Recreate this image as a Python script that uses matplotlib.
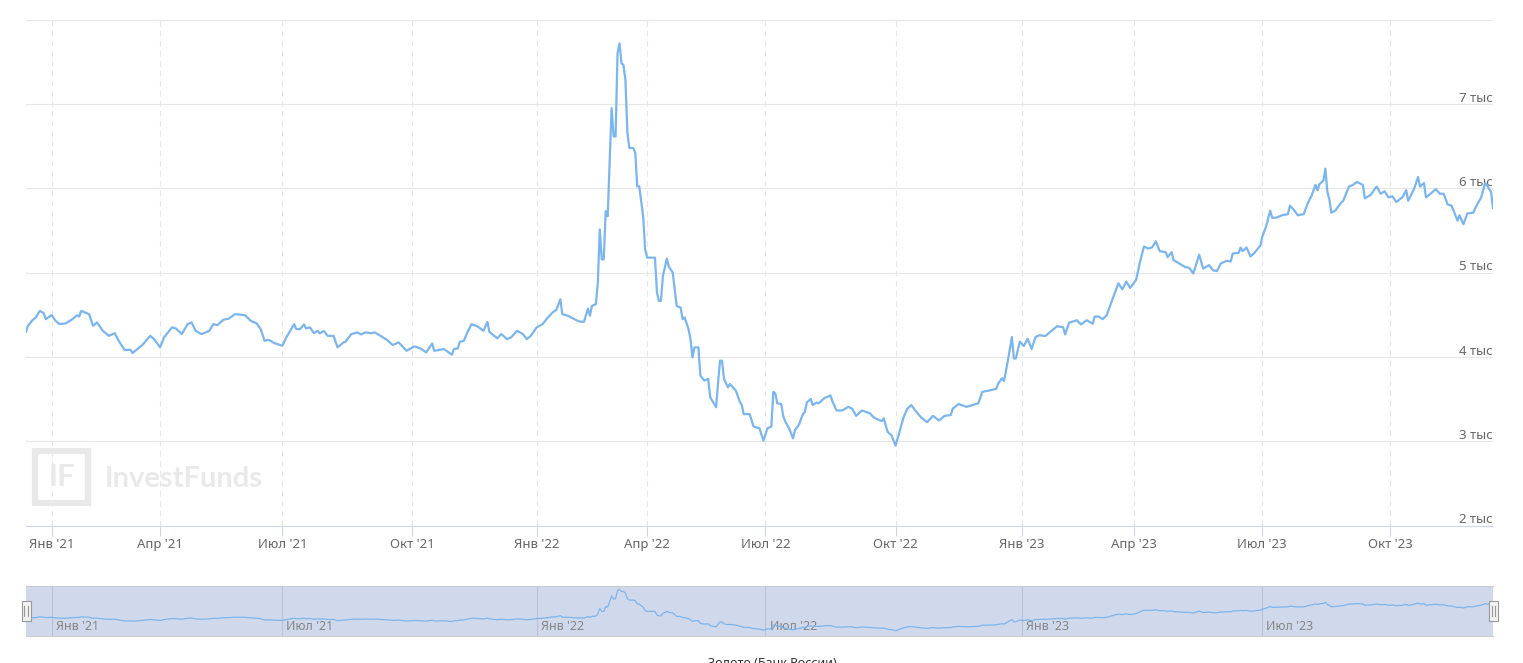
import numpy as np
import pandas as pd
import matplotlib
matplotlib.use("Agg")
import matplotlib.pyplot as plt
from matplotlib.patches import Rectangle
from matplotlib.lines import Line2D

plt.rcParams["font.family"] = ["Noto Sans", "DejaVu Sans"]

# Gold price, Bank of Russia (rub per gram)
dates_2020_21 = [
    "2020-12-15", "2020-12-16", "2020-12-18", "2020-12-22", "2020-12-24", "2020-12-28", "2020-12-29",
    "2021-01-11", "2021-01-13", "2021-01-15", "2021-01-20", "2021-01-25", "2021-01-28", "2021-01-29",
    "2021-02-01", "2021-02-05", "2021-02-09", "2021-02-11", "2021-02-16", "2021-02-19", "2021-02-26",
    "2021-03-02", "2021-03-05", "2021-03-11", "2021-03-12", "2021-03-19", "2021-03-25", "2021-03-29",
    "2021-04-01", "2021-04-05", "2021-04-09", "2021-04-13", "2021-04-16", "2021-04-21", "2021-04-23",
    "2021-04-27", "2021-04-30", "2021-05-07", "2021-05-12", "2021-05-14", "2021-05-19", "2021-05-24",
    "2021-05-27", "2021-06-03", "2021-06-08", "2021-06-11", "2021-06-16", "2021-06-18", "2021-06-22",
    "2021-06-25", "2021-07-01", "2021-07-05", "2021-07-09", "2021-07-12", "2021-07-14", "2021-07-16",
    "2021-07-19", "2021-07-21", "2021-07-23", "2021-07-27", "2021-07-28", "2021-07-30", "2021-08-03",
    "2021-08-06", "2021-08-10", "2021-08-13", "2021-08-16", "2021-08-19", "2021-08-24", "2021-08-26",
    "2021-08-30", "2021-09-02", "2021-09-06", "2021-09-10", "2021-09-14", "2021-09-17", "2021-09-22",
    "2021-09-28", "2021-10-04", "2021-10-07", "2021-10-12", "2021-10-15", "2021-10-18", "2021-10-25",
    "2021-10-29", "2021-11-01", "2021-11-03", "2021-11-08", "2021-11-10", "2021-11-12", "2021-11-16",
    "2021-11-19", "2021-11-24", "2021-11-26", "2021-11-29", "2021-12-03", "2021-12-07", "2021-12-10",
    "2021-12-14", "2021-12-17", "2021-12-22", "2021-12-24", "2021-12-28",
]
gold_2020_21 = [
    4297, 4368, 4427, 4467, 4545, 4518, 4447,
    4494, 4427, 4388, 4396, 4438, 4494, 4478,
    4545, 4506, 4368, 4408, 4308, 4249, 4281,
    4190, 4080, 4084, 4045, 4140, 4249, 4210,
    4112, 4230, 4349, 4337, 4270, 4388, 4408,
    4308, 4270, 4308, 4388, 4376, 4438, 4455,
    4506, 4494, 4427, 4396, 4329, 4190, 4202,
    4163, 4131, 4230, 4388, 4329, 4329, 4384,
    4337, 4349, 4281, 4308, 4278, 4308, 4249,
    4249, 4112, 4171, 4178, 4270, 4289, 4266,
    4289, 4281, 4289, 4230, 4202, 4140, 4171,
    4072, 4124, 4100, 4053, 4159, 4072, 4092,
    4025, 4092, 4100, 4178, 4190, 4297, 4388,
    4361, 4308, 4416, 4297, 4219, 4270, 4210,
    4230, 4308, 4270, 4210, 4249,
]

dates_2022 = [
    "2022-01-10", "2022-01-13", "2022-01-17", "2022-01-20", "2022-01-24", "2022-01-26", "2022-01-27",
    "2022-02-01", "2022-02-04", "2022-02-09", "2022-02-11", "2022-02-15", "2022-02-16", "2022-02-17",
    "2022-02-21", "2022-02-22", "2022-02-24", "2022-02-25", "2022-02-28", "2022-03-01", "2022-03-02",
    "2022-03-03", "2022-03-04", "2022-03-09", "2022-03-10", "2022-03-11", "2022-03-14", "2022-03-15",
    "2022-03-16", "2022-03-17", "2022-03-18", "2022-03-21", "2022-03-23", "2022-03-24", "2022-03-25",
    "2022-03-28", "2022-03-30", "2022-03-31", "2022-04-01", "2022-04-07", "2022-04-08", "2022-04-11",
    "2022-04-12", "2022-04-13", "2022-04-14", "2022-04-15", "2022-04-18", "2022-04-20", "2022-04-22",
    "2022-04-26", "2022-04-27", "2022-04-28", "2022-05-04", "2022-05-05", "2022-05-06", "2022-05-11",
    "2022-05-13", "2022-05-16", "2022-05-18", "2022-05-20", "2022-05-23", "2022-05-25", "2022-05-26",
    "2022-05-27", "2022-05-30", "2022-05-31", "2022-06-01", "2022-06-03", "2022-06-06", "2022-06-09",
    "2022-06-14", "2022-06-15", "2022-06-16", "2022-06-21", "2022-06-23", "2022-06-28", "2022-06-30",
    "2022-07-04", "2022-07-06", "2022-07-07", "2022-07-08", "2022-07-11", "2022-07-13", "2022-07-14",
    "2022-07-15", "2022-07-19", "2022-07-21", "2022-07-22", "2022-07-26", "2022-07-28", "2022-07-29",
    "2022-08-01", "2022-08-03", "2022-08-04", "2022-08-08", "2022-08-09", "2022-08-12", "2022-08-17",
    "2022-08-18", "2022-08-22", "2022-08-25", "2022-08-30", "2022-09-01", "2022-09-05", "2022-09-08",
    "2022-09-14", "2022-09-16", "2022-09-22", "2022-09-23", "2022-09-27", "2022-09-29", "2022-10-03",
    "2022-10-05", "2022-10-07", "2022-10-11", "2022-10-13", "2022-10-17", "2022-10-20", "2022-10-25",
    "2022-10-28", "2022-11-02", "2022-11-08", "2022-11-11", "2022-11-14", "2022-11-17", "2022-11-23",
    "2022-11-28", "2022-12-01", "2022-12-05", "2022-12-08", "2022-12-14", "2022-12-15", "2022-12-19",
    "2022-12-20", "2022-12-22", "2022-12-26", "2022-12-27", "2022-12-28", "2022-12-30",
]
gold_2022 = [
    4349, 4388, 4447, 4526, 4557, 4683, 4506,
    4486, 4447, 4416, 4416, 4573, 4486, 4604,
    4624, 4880, 5511, 5156, 5156, 5727, 5668,
    6299, 6949, 6614, 6614, 7599, 7717, 7481,
    7461, 7284, 6654, 6476, 6476, 6417, 6022,
    6022, 5668, 5274, 5176, 5176, 4762, 4663,
    4663, 4959, 5058, 5165, 5070, 4999, 4604,
    4585, 4447, 4467, 4329, 4210, 3994, 4112,
    4112, 3777, 3718, 3738, 3521, 3442, 3403,
    3699, 3954, 3954, 3738, 3639, 3678, 3599,
    3470, 3428, 3321, 3321, 3174, 3152, 3004,
    3152, 3174, 3585, 3568, 3449, 3441, 3301,
    3237, 3152, 3033, 3131, 3195, 3321, 3344,
    3458, 3501, 3428, 3458, 3449, 3512, 3542,
    3471, 3364, 3364, 3407, 3385, 3301, 3364,
    3330, 3280, 3237, 3271, 3109, 3067, 2948,
    3109, 3280, 3385, 3428, 3364, 3280, 3225,
    3301, 3245, 3301, 3309, 3385, 3441, 3407,
    3428, 3449, 3585, 3598, 3620, 3680, 3747,
    3712, 3958, 4235, 3980, 3980, 4180,
]

dates_2023 = [
    "2023-01-10", "2023-01-12", "2023-01-16", "2023-01-18", "2023-01-20", "2023-01-25", "2023-01-30",
    "2023-02-02", "2023-02-07", "2023-02-08", "2023-02-10", "2023-02-16", "2023-02-20", "2023-02-27",
    "2023-03-02", "2023-03-03", "2023-03-07", "2023-03-10", "2023-03-14", "2023-03-16", "2023-03-20",
    "2023-03-22", "2023-03-24", "2023-03-28", "2023-03-30", "2023-04-04", "2023-04-06", "2023-04-10",
    "2023-04-12", "2023-04-14", "2023-04-18", "2023-04-20", "2023-04-25", "2023-04-26", "2023-04-28",
    "2023-05-01", "2023-05-04", "2023-05-09", "2023-05-11", "2023-05-15", "2023-05-16", "2023-05-18",
    "2023-05-22", "2023-05-25", "2023-05-29", "2023-05-31", "2023-06-02", "2023-06-07", "2023-06-09",
    "2023-06-12", "2023-06-15", "2023-06-16", "2023-06-19", "2023-06-21", "2023-06-23", "2023-06-27",
    "2023-06-30", "2023-07-03", "2023-07-05", "2023-07-07", "2023-07-10", "2023-07-12", "2023-07-17",
    "2023-07-20", "2023-07-21", "2023-07-25", "2023-07-27", "2023-08-01", "2023-08-03", "2023-08-07",
    "2023-08-09", "2023-08-10", "2023-08-11", "2023-08-15", "2023-08-16", "2023-08-17", "2023-08-18",
    "2023-08-21", "2023-08-23", "2023-08-28", "2023-08-29", "2023-09-01", "2023-09-05", "2023-09-07",
    "2023-09-12", "2023-09-13", "2023-09-18", "2023-09-20", "2023-09-21", "2023-09-25", "2023-09-27",
    "2023-09-29", "2023-10-03", "2023-10-05", "2023-10-10", "2023-10-12", "2023-10-13", "2023-10-18",
    "2023-10-20", "2023-10-23", "2023-10-25", "2023-10-26", "2023-10-31", "2023-11-02", "2023-11-07",
    "2023-11-09", "2023-11-13", "2023-11-15", "2023-11-20", "2023-11-21", "2023-11-23", "2023-11-27",
    "2023-11-30", "2023-12-01", "2023-12-06", "2023-12-08", "2023-12-11", "2023-12-13", "2023-12-14",
]
gold_2023 = [
    4128, 4214, 4094, 4235, 4256, 4247, 4307,
    4363, 4350, 4265, 4404, 4434, 4384, 4434,
    4392, 4477, 4477, 4447, 4490, 4617, 4744,
    4872, 4800, 4893, 4817, 4914, 5127, 5309,
    5284, 5296, 5369, 5254, 5241, 5182, 5241,
    5147, 5105, 5063, 5055, 4987, 5063, 5211,
    5046, 5088, 5025, 5017, 5109, 5139, 5131,
    5225, 5233, 5296, 5254, 5296, 5190, 5233,
    5318, 5425, 5552, 5734, 5649, 5649, 5679,
    5692, 5793, 5742, 5679, 5692, 5819, 5912,
    6039, 5976, 6048, 6090, 6231, 5955, 5870,
    5709, 5734, 5828, 5850, 6019, 6039, 6074,
    6039, 5879, 5921, 5989, 6019, 5934, 5963,
    5891, 5904, 5836, 5891, 5976, 5850, 5993,
    6133, 6019, 6061, 5891, 5947, 5989, 5934,
    5934, 5807, 5793, 5615, 5679, 5573, 5700,
    5709, 5764, 5891, 6061, 6031, 5955, 5764,
]

# non-trading days (the chart uses an ordinal axis, so gaps are skipped)
holidays = [
    "2021-01-01", "2021-01-04", "2021-01-05", "2021-01-06", "2021-01-07", "2021-01-08",
    "2021-02-22", "2021-02-23", "2021-03-08", "2021-05-03", "2021-05-10", "2021-06-14",
    "2021-11-04", "2021-11-05", "2021-12-31",
    "2022-01-03", "2022-01-04", "2022-01-05", "2022-01-06", "2022-01-07",
    "2022-02-23", "2022-03-07", "2022-03-08", "2022-05-02", "2022-05-03", "2022-05-09",
    "2022-05-10", "2022-06-13", "2022-11-04",
    "2023-01-02", "2023-01-03", "2023-01-04", "2023-01-05", "2023-01-06",
    "2023-02-23", "2023-02-24", "2023-03-08", "2023-11-06",
]
month_names = {1: "Янв", 4: "Апр", 7: "Июл", 10: "Окт"}
y_ticks = [2000, 3000, 4000, 5000, 6000, 7000, 8000]
y_labels = ["2 тыс", "3 тыс", "4 тыс", "5 тыс", "6 тыс", "7 тыс", ""]
series_name = "Золото (Банк России)"

sessions = pd.bdate_range("2020-12-15", "2023-12-14")
sessions = sessions[~sessions.isin(pd.to_datetime(holidays))]

dates = pd.to_datetime(dates_2020_21 + dates_2022 + dates_2023)
values = np.array(gold_2020_21 + gold_2022 + gold_2023)
pos = sessions.searchsorted(dates)

quarters = pd.date_range("2021-01-01", "2023-10-01", freq="QS")
q_pos = sessions.searchsorted(quarters)
q_labels = [f"{month_names[d.month]} '{d.strftime('%y')}" for d in quarters]

halves = pd.date_range("2021-01-01", "2023-07-01", freq="6MS")
h_pos = sessions.searchsorted(halves)
h_labels = [f"{month_names[d.month]} '{d.strftime('%y')}" for d in halves]

W, H = 1523, 663
line_color = "#7cb5ec"
fig = plt.figure(figsize=(W / 100, H / 100), dpi=100)

# main chart
ax = fig.add_axes([26 / W, 1 - 525.5 / H, 1467 / W, 506 / H])
ax.set_xlim(0, len(sessions) - 1)
ax.set_ylim(2000, 8000)
ax.set_axisbelow(True)
ax.plot(pos, values, color=line_color, lw=1.6, solid_joinstyle="round", zorder=3)

ax.set_yticks(y_ticks)
ax.set_yticklabels([])
ax.tick_params(axis="y", length=0)
ax.yaxis.grid(True, color="#e6e6e6", lw=0.8)
for v, lab in zip(y_ticks, y_labels):
    ax.annotate(lab, xy=(1, v), xycoords=("axes fraction", "data"),
                xytext=(0, -0.5), textcoords="offset points",
                ha="right", va="bottom", color="#666666", fontsize=9.5, zorder=2)

ax.set_xticks(q_pos)
ax.set_xticklabels(q_labels)
ax.xaxis.grid(True, color="#e6e6e6", lw=0.8, linestyle=(0, (5, 4)))
ax.tick_params(axis="x", length=7.2, width=0.75, color="#ccd6eb",
               labelcolor="#666666", labelsize=9.5, pad=2)
for s in ["top", "left", "right"]:
    ax.spines[s].set_visible(False)
ax.spines["bottom"].set_color("#ccd6eb")
ax.spines["bottom"].set_linewidth(0.8)

# watermark
wm = "#e9e9e9"
fig.patches.append(Rectangle((35 / W, 1 - 503 / H), 53 / W, 52 / H, transform=fig.transFigure,
                             facecolor="none", edgecolor=wm, lw=4.5))
fig.text(61.5 / W, 1 - 477 / H, "IF", transform=fig.transFigure, ha="center", va="center",
         fontsize=22, fontweight="bold", color=wm, family="Lato")
fig.text(105 / W, 1 - 479 / H, "InvestFunds", transform=fig.transFigure, ha="left", va="center",
         fontsize=21, fontweight="bold", color=wm, family="Lato")

# navigator
nav = fig.add_axes([26 / W, 1 - 636 / H, 1467 / W, 50 / H])
nav.set_xlim(0, len(sessions) - 1)
nav.set_ylim(2340, 8100)
nav.set_facecolor("#d0d9ec")
for p in h_pos:
    nav.axvline(p, color="#b9c3d9", lw=0.8, zorder=1)
for p, lab in zip(h_pos, h_labels):
    nav.annotate(lab, xy=(p, 0), xycoords=("data", "axes fraction"),
                 xytext=(3, 2), textcoords="offset points",
                 ha="left", va="bottom", color="#858585", fontsize=9)
nav.plot(pos, values, color=line_color, lw=0.9, zorder=3)
nav.set_xticks([])
nav.set_yticks([])
for s in ["left", "right"]:
    nav.spines[s].set_visible(False)
for s in ["top", "bottom"]:
    nav.spines[s].set_color("#cccccc")
    nav.spines[s].set_linewidth(0.8)

# navigator handles
for hx in [26, 1493]:
    fig.patches.append(Rectangle(((hx - 4.5) / W, 1 - 621 / H), 9 / W, 20 / H,
                                 transform=fig.transFigure, facecolor="#f2f2f2",
                                 edgecolor="#999999", lw=0.8, zorder=5))
    for dx in [-1.5, 1.5]:
        fig.lines.append(Line2D([(hx + dx) / W] * 2, [1 - 616 / H, 1 - 606 / H],
                                transform=fig.transFigure, color="#999999", lw=0.8, zorder=6))

# legend item, cut by the bottom edge as in the original
fig.text(772 / W, 1 - 657 / H, series_name, ha="center", va="top",
         fontsize=9, fontweight="bold", color="#333333")

fig.savefig("out.png", dpi=100)
